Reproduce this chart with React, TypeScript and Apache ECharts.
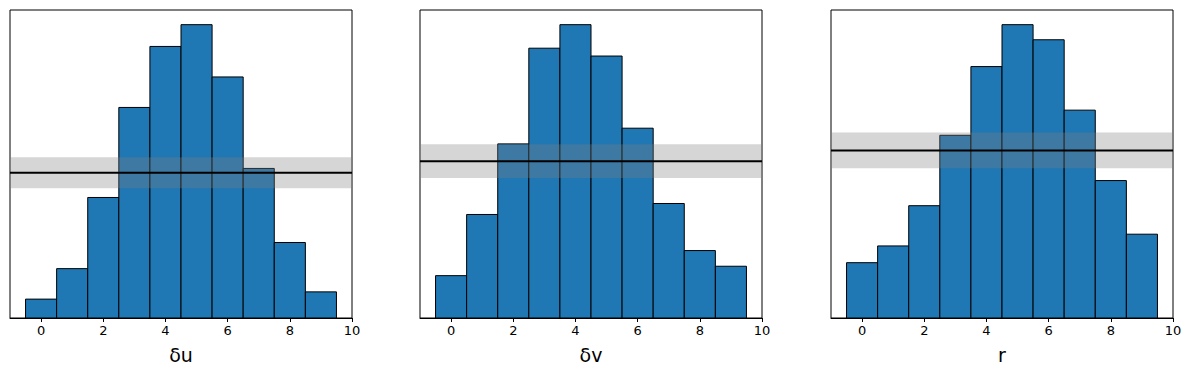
import React, { useEffect, useRef } from "react";
import * as echarts from "echarts";

const bins = [0, 1, 2, 3, 4, 5, 6, 7, 8, 9];
const duCounts = [13, 34, 83, 145, 187, 202, 166, 103, 52, 18];
const dvCounts = [27, 66, 111, 172, 187, 167, 121, 73, 43, 33];
const rCounts = [33, 43, 67, 109, 150, 175, 166, 124, 82, 50];
const panelLabels = ["δu", "δv", "r"];
const expectedCount = 100;
const bandLow = 89.3;
const bandHigh = 110.7;
const xTicks = [0, 2, 4, 6, 8, 10];

const panelCounts = [duCounts, dvCounts, rCounts];
const gridLefts = [10, 420, 831];

export default function App() {
  const ref = useRef<HTMLDivElement>(null);
  useEffect(() => {
    if (!ref.current) return;
    const chart = echarts.init(ref.current, undefined, { renderer: "svg" });
    const grids: any[] = [];
    const xAxes: any[] = [];
    const yAxes: any[] = [];
    const series: any[] = [];
    panelCounts.forEach((counts, i) => {
      grids.push({
        left: gridLefts[i],
        top: 10,
        width: 342,
        height: 308,
        show: true,
        borderColor: "#000",
        borderWidth: 1,
        backgroundColor: "transparent",
      });
      xAxes.push({
        type: "value",
        gridIndex: i,
        min: -1,
        max: 10,
        name: panelLabels[i],
        nameLocation: "middle",
        nameGap: 27,
        nameTextStyle: { fontFamily: "DejaVu Sans", fontSize: 19, color: "#000" },
        axisLine: { show: true, onZero: false, lineStyle: { color: "#000", width: 1 } },
        axisTick: {
          show: true,
          length: 4,
          lineStyle: { color: "#000" },
          customValues: xTicks,
        },
        axisLabel: {
          show: true,
          margin: 6,
          fontFamily: "DejaVu Sans",
          fontSize: 13,
          color: "#000",
          customValues: xTicks,
        },
        splitLine: { show: false },
      });
      yAxes.push({
        type: "value",
        gridIndex: i,
        min: 0,
        max: Math.max(...counts) * 1.05,
        axisLine: { show: false },
        axisTick: { show: false },
        axisLabel: { show: false },
        splitLine: { show: false },
      });
      series.push({
        type: "custom",
        xAxisIndex: i,
        yAxisIndex: i,
        z: 2,
        encode: { x: 0, y: 1 },
        data: bins.map((b, j) => [b, counts[j]]),
        renderItem: (params: any, api: any) => {
          const x = api.value(0);
          const y = api.value(1);
          const p0 = api.coord([x - 0.5, y]);
          const p1 = api.coord([x + 0.5, 0]);
          return {
            type: "rect",
            shape: { x: p0[0], y: p0[1], width: p1[0] - p0[0], height: p1[1] - p0[1] },
            style: { fill: "#1f77b4", stroke: "#000", lineWidth: 1 },
          };
        },
      });
      series.push({
        type: "custom",
        xAxisIndex: i,
        yAxisIndex: i,
        z: 3,
        silent: true,
        encode: { y: [0, 1] },
        data: [[bandLow, bandHigh]],
        renderItem: (params: any, api: any) => {
          const lo = api.value(0);
          const hi = api.value(1);
          const p0 = api.coord([-1, hi]);
          const p1 = api.coord([10, lo]);
          return {
            type: "rect",
            shape: { x: p0[0], y: p0[1], width: p1[0] - p0[0], height: p1[1] - p0[1] },
            style: { fill: "rgba(128,128,128,0.32)" },
          };
        },
      });
      series.push({
        type: "line",
        xAxisIndex: i,
        yAxisIndex: i,
        z: 4,
        symbol: "none",
        lineStyle: { color: "#000", width: 2 },
        data: [
          [-1, expectedCount],
          [10, expectedCount],
        ],
      });
    });
    chart.setOption({
      animation: false,
      backgroundColor: "#fff",
      grid: grids,
      xAxis: xAxes,
      yAxis: yAxes,
      series,
    });
    return () => chart.dispose();
  }, []);
  return (
    <div
      ref={ref}
      style={{ position: "absolute", left: 0, top: 0, width: 1191, height: 377 }}
    />
  );
}
